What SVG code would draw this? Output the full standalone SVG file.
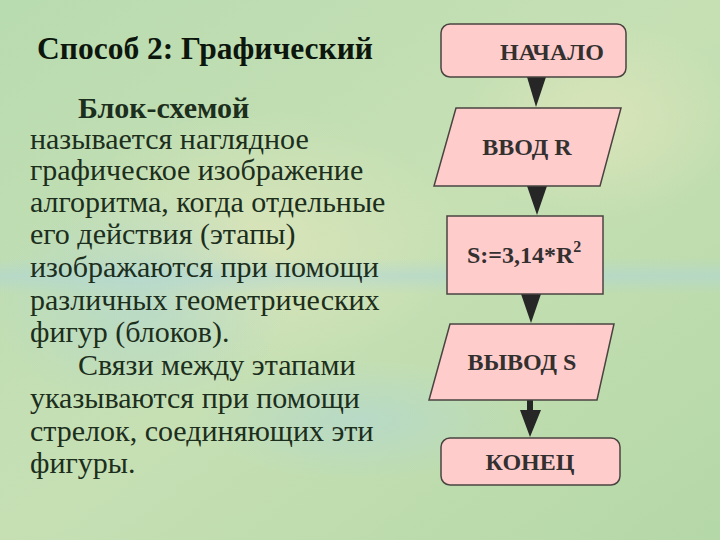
<svg xmlns="http://www.w3.org/2000/svg" width="720" height="540" viewBox="0 0 720 540">
<defs>
<linearGradient id="bg" x1="0" y1="0" x2="1" y2="1">
<stop offset="0" stop-color="#b9dbb0"/>
<stop offset="0.5" stop-color="#c6e0b4"/>
<stop offset="1" stop-color="#b5d8a8"/>
</linearGradient>
<radialGradient id="warm" cx="0.5" cy="0.5" r="0.5">
<stop offset="0" stop-color="#e2e6bc" stop-opacity="0.7"/>
<stop offset="1" stop-color="#e2e6bc" stop-opacity="0"/>
</radialGradient>
<radialGradient id="blue" cx="0.5" cy="0.5" r="0.5">
<stop offset="0" stop-color="#b4d8d0" stop-opacity="0.7"/>
<stop offset="1" stop-color="#b4d8d0" stop-opacity="0"/>
</radialGradient>
<linearGradient id="band" x1="0" y1="0" x2="0" y2="1">
<stop offset="0" stop-color="#b0d6d6" stop-opacity="0"/>
<stop offset="0.5" stop-color="#b0d6d6" stop-opacity="0.55"/>
<stop offset="1" stop-color="#b0d6d6" stop-opacity="0"/>
</linearGradient>
<style>
.body{font-family:"Liberation Serif","Times New Roman",serif;font-size:30px;fill:#1c2e1c}
.bold{font-weight:bold}
.title{font-family:"Liberation Serif","Times New Roman",serif;font-size:31.5px;font-weight:bold;fill:#0c160c}
.node{fill:#ffcccc;stroke:#4a4440;stroke-width:1.5}
.lbl{font-family:"Liberation Serif","Times New Roman",serif;font-size:24px;font-weight:bold;fill:#333030}
.arr{fill:#262626}
</style>
</defs>
<rect x="0" y="0" width="720" height="540" fill="url(#bg)"/>
<ellipse cx="260" cy="240" rx="200" ry="130" fill="url(#warm)"/>
<ellipse cx="600" cy="120" rx="140" ry="100" fill="url(#warm)"/>
<ellipse cx="140" cy="300" rx="150" ry="110" fill="url(#blue)"/>
<ellipse cx="360" cy="420" rx="160" ry="60" fill="url(#blue)"/>
<rect x="0" y="258" width="720" height="36" fill="url(#band)"/>

<text class="title" x="37" y="59">Способ 2: Графический</text>
<g id="paragraph">
<text class="body bold" x="78" y="118">Блок-схемой</text>
<text class="body" x="30" y="149">называется наглядное</text>
<text class="body" x="30" y="180">графическое изображение</text>
<text class="body" x="30" y="212">алгоритма, когда отдельные</text>
<text class="body" x="30" y="244">его действия (этапы)</text>
<text class="body" x="30" y="277">изображаются при помощи</text>
<text class="body" x="30" y="310">различных геометрических</text>
<text class="body" x="30" y="342">фигур (блоков).</text>
<text class="body" x="78" y="375">Связи между этапами</text>
<text class="body" x="30" y="408">указываются при помощи</text>
<text class="body" x="30" y="441">стрелок, соединяющих эти</text>
<text class="body" x="30" y="473">фигуры.</text>
</g>

<g id="connectors">
<polygon class="arr" points="527,77 546,77 536,107"/>
<polygon class="arr" points="527,186 547,186 537,215"/>
<polygon class="arr" points="521,294 541,294 531,323"/>
<polygon class="arr" points="527,399 533,399 533,410 541,410 530,437 520,410 527,410"/>
</g>

<g id="start">
<rect class="node" x="441" y="24" width="185" height="53" rx="9"/>
<text class="lbl" x="500" y="60">НАЧАЛО</text>
</g>
<g id="input">
<polygon class="node" points="456,108 621,108 600,186 434,186"/>
<text class="lbl" x="527" y="155" text-anchor="middle">ВВОД R</text>
</g>
<g id="process">
<rect class="node" x="447" y="216" width="156" height="78"/>
<text class="lbl" x="467" y="263">S:=3,14*R<tspan dy="-11" font-size="16">2</tspan></text>
</g>
<g id="output">
<polygon class="node" points="450,324 614,324 597,400 429,400"/>
<text class="lbl" x="522" y="370" text-anchor="middle">ВЫВОД S</text>
</g>
<g id="end">
<rect class="node" x="441" y="438" width="179" height="47" rx="9"/>
<text class="lbl" x="530" y="470" text-anchor="middle">КОНЕЦ</text>
</g>
</svg>
